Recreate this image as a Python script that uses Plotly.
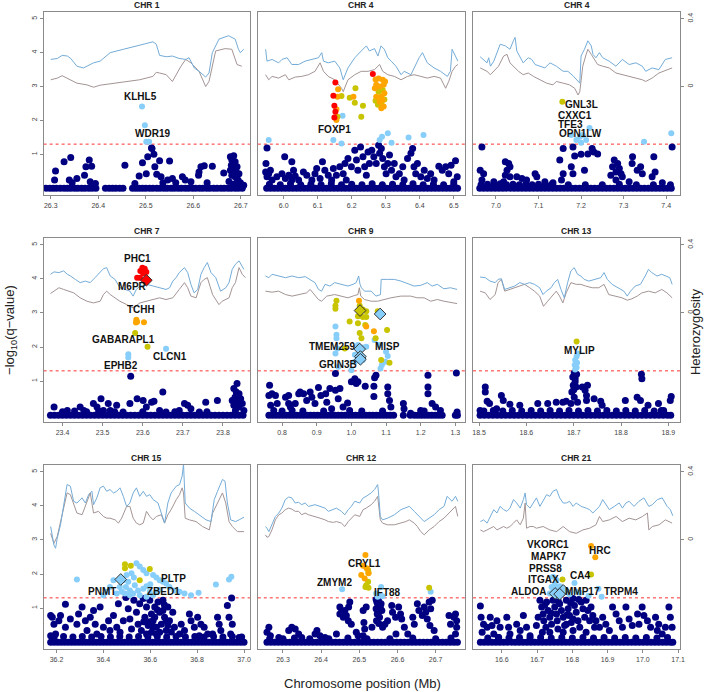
import plotly.graph_objects as go

# ------------------------------------------------------------------ DATA
# points are (position Mb, -log10 q) ; heterozygosity lines are (position Mb, heterozygosity)

CHR1_NAVY = [(26.290,0),(26.298,0),(26.305,0),(26.312,0),(26.320,0),(26.328,0),(26.335,0),(26.342,0),(26.350,0),(26.357,0),(26.365,0),(26.372,0),(26.380,0),(26.387,0),(26.395,0),(26.415,0),(26.423,0),(26.430,0),(26.437,0),(26.445,0),(26.452,0),(26.472,0),(26.479,0),(26.486,0),(26.493,0),(26.500,0),(26.508,0),(26.515,0),(26.523,0),(26.530,0),(26.538,0),(26.545,0),(26.553,0),(26.560,0),(26.568,0),(26.575,0),(26.583,0),(26.590,0),(26.598,0),(26.605,0),(26.613,0),(26.620,0),(26.628,0),(26.635,0),(26.643,0),(26.650,0),(26.658,0),(26.665,0),(26.673,0),(26.680,0),(26.688,0),(26.695,0),(26.703,0),
    (26.310,0.51),(26.308,0.24),(26.328,0.78),(26.342,0.91),(26.339,0.24),(26.345,0.16),(26.355,0.29),(26.371,0.38),(26.374,0.63),(26.381,0.83),(26.386,0.65),(26.383,0.19),(26.394,0.14),(26.456,0.68),(26.486,0.36),(26.477,0.14),(26.493,0.75),(26.501,0.43),(26.504,0.93),(26.512,1.19),(26.513,1.17),(26.517,1.00),(26.519,0.63),(26.523,0.41),(26.529,0.81),(26.532,0.34),(26.536,0.16),(26.550,0.80),(26.546,0.24),(26.556,0.29),(26.563,0.16),(26.577,0.34),(26.583,0.24),(26.595,0.19),(26.611,0.38),(26.612,0.48),(26.616,0.63),(26.623,0.66),(26.629,0.16),(26.640,0.65),(26.664,0.45),(26.678,0.93),(26.685,0.96),(26.681,0.83),(26.688,0.78),(26.680,0.68),(26.692,0.63),(26.685,0.58),(26.678,0.53),(26.690,0.48),(26.696,0.43),(26.681,0.38),(26.688,0.34),(26.694,0.24),(26.706,0.09),(26.699,0.16),(26.675,0.20),(26.684,0.12),(26.690,0.15)]
CHR1_LBLUE = [(26.492,2.41),(26.498,1.86),(26.501,1.37),(26.507,1.37)]
CHR1_OLIVE = []
CHR1_ORANGE = []
CHR1_RED = []
CHR1_DIA_LBLUE = []
CHR1_DIA_OLIVE = []
CHR1_DIA_RED = []
CHR1_HET_BLUE = [(26.300,0.160),(26.314,0.166),(26.324,0.184),(26.335,0.180),(26.342,0.166),(26.355,0.120),(26.369,0.110),(26.380,0.124),(26.390,0.140),(26.404,0.150),(26.425,0.200),(26.453,0.220),(26.487,0.244),(26.515,0.264),(26.522,0.250),(26.529,0.184),(26.543,0.176),(26.556,0.180),(26.570,0.166),(26.584,0.160),(26.591,0.170),(26.602,0.110),(26.612,0.090),(26.626,0.056),(26.633,0.080),(26.640,0.200),(26.654,0.280),(26.674,0.300),(26.688,0.280),(26.695,0.220),(26.699,0.200),(26.706,0.220)]
CHR1_HET_GRAY = [(26.300,0.040),(26.314,0.050),(26.324,0.064),(26.335,0.050),(26.355,0.020),(26.376,0.010),(26.390,-0.004),(26.404,0.008),(26.425,0.016),(26.453,0.024),(26.487,0.040),(26.515,0.060),(26.522,0.084),(26.529,0.080),(26.543,0.070),(26.556,0.030),(26.560,0.050),(26.574,0.120),(26.584,0.160),(26.595,0.140),(26.612,0.090),(26.619,0.040),(26.626,0.000),(26.633,0.030),(26.647,0.210),(26.667,0.224),(26.681,0.220),(26.692,0.130),(26.702,0.120)]
CHR1_GENES = [("KLHL5",26.489,2.70),("WDR19",26.515,1.62)]

CHR4A_NAVY = [(5.950,0),(5.961,0),(5.972,0),(5.983,0),(5.994,0),(6.005,0),(6.016,0),(6.027,0),(6.038,0),(6.049,0),(6.060,0),(6.071,0),(6.082,0),(6.093,0),(6.104,0),(6.115,0),(6.126,0),(6.137,0),(6.148,0),(6.159,0),(6.170,0),(6.181,0),(6.192,0),(6.203,0),(6.214,0),(6.225,0),(6.236,0),(6.247,0),(6.258,0),(6.269,0),(6.280,0),(6.291,0),(6.302,0),(6.313,0),(6.324,0),(6.335,0),(6.346,0),(6.357,0),(6.368,0),(6.379,0),(6.390,0),(6.401,0),(6.412,0),(6.423,0),(6.434,0),(6.445,0),(6.456,0),(6.467,0),(6.478,0),(6.489,0),(6.500,0),(6.511,0),
    (5.958,0.12),(5.990,0.10),(6.020,0.13),(6.050,0.10),(6.080,0.12),(6.110,0.10),(6.140,0.13),(6.170,0.10),(6.200,0.12),(6.230,0.10),(6.260,0.13),(6.290,0.10),(6.320,0.12),(6.350,0.10),(6.380,0.13),(6.410,0.10),(6.440,0.12),(6.470,0.10),(6.500,0.12),
    (5.951,1.19),(5.948,0.73),(5.947,0.48),(5.951,0.34),(5.956,0.43),(5.966,0.24),(5.980,0.34),(5.961,0.53),(6.003,0.93),(5.995,0.43),(6.005,0.29),(6.015,0.38),(6.024,0.78),(6.029,0.53),(6.024,0.24),(6.034,0.36),(6.044,0.24),(6.058,0.48),(6.068,0.38),(6.083,0.24),(6.092,0.43),(6.097,0.58),(6.107,0.29),(6.114,0.78),(6.121,0.53),(6.131,0.38),(6.141,0.24),(6.146,0.58),(6.155,0.38),(6.165,0.63),(6.175,0.43),(6.180,0.73),(6.184,0.24),(6.189,0.88),(6.199,0.63),(6.209,1.12),(6.214,0.83),(6.218,0.53),(6.226,1.22),(6.233,0.93),(6.238,0.63),(6.243,0.38),(6.248,1.07),(6.252,0.73),(6.259,1.12),(6.265,0.93),(6.272,0.73),(6.279,1.27),(6.282,1.03),(6.287,1.17),(6.291,0.88),(6.296,0.63),(6.301,0.43),(6.306,0.73),(6.311,0.98),(6.317,0.53),(6.325,0.73),(6.330,0.34),(6.340,0.43),(6.350,0.63),(6.354,0.24),(6.364,0.88),(6.374,1.03),(6.379,1.17),(6.383,0.63),(6.388,0.43),(6.393,0.73),(6.403,0.34),(6.413,0.53),(6.422,0.29),(6.432,0.43),(6.442,0.24),(6.456,0.65),(6.466,0.53),(6.476,0.63),(6.485,0.43),(6.492,0.68),(6.505,0.81),(6.510,0.34),(6.500,0.19)]
CHR4A_LBLUE = [(6.173,2.14),(5.956,1.42),(6.146,1.42),(6.170,1.32),(6.282,1.42),(6.289,1.52),(6.306,1.62),(6.317,1.34),(6.367,1.50),(6.411,1.57)]
CHR4A_OLIVE = [(6.170,2.72),(6.211,2.95),(6.194,2.67),(6.209,2.52),(6.233,2.43),(6.228,2.11),(6.158,2.11),(6.270,2.58),(6.279,2.85),(6.291,2.90),(6.287,2.50),(6.296,2.62),(6.277,2.46)]
CHR4A_ORANGE = [(6.160,2.92),(6.158,2.70),(6.155,2.33),(6.155,2.01),(6.270,3.21),(6.279,3.24),(6.291,3.20),(6.298,3.15),(6.272,3.05),(6.282,3.00),(6.294,3.05),(6.268,2.95),(6.296,2.80),(6.287,2.70),(6.272,2.70),(6.291,2.60),(6.287,2.36),(6.294,2.41),(6.282,2.55),(6.205,2.70)]
CHR4A_RED = [(6.152,3.12),(6.146,2.73),(6.149,2.43),(6.152,2.26),(6.149,2.09),(6.262,3.37)]
CHR4A_DIA_LBLUE = []
CHR4A_DIA_OLIVE = []
CHR4A_DIA_RED = []
CHR4A_HET_BLUE = [(5.947,0.22),(5.951,0.15),(5.966,0.16),(5.985,0.14),(5.995,0.16),(6.010,0.17),(6.024,0.13),(6.044,0.13),(6.063,0.15),(6.083,0.16),(6.102,0.17),(6.112,0.20),(6.117,0.15),(6.131,0.14),(6.150,0.15),(6.165,0.11),(6.175,0.04),(6.189,0.11),(6.209,0.17),(6.228,0.21),(6.243,0.24),(6.252,0.21),(6.267,0.224),(6.277,0.18),(6.286,0.24),(6.296,0.22),(6.306,0.17),(6.316,0.15),(6.330,0.12),(6.345,0.07),(6.354,0.09),(6.374,0.07),(6.388,0.13),(6.398,0.17),(6.408,0.20),(6.422,0.14),(6.442,0.11),(6.461,0.09),(6.481,0.06),(6.490,0.09),(6.495,0.22),(6.505,0.18),(6.512,0.15)]
CHR4A_HET_GRAY = [(5.947,0.07),(5.956,0.04),(5.966,0.06),(5.985,0.05),(6.005,0.07),(6.015,0.04),(6.034,0.056),(6.053,0.06),(6.073,0.07),(6.092,0.09),(6.107,0.14),(6.117,0.09),(6.131,0.06),(6.150,0.04),(6.170,-0.01),(6.175,-0.03),(6.189,0.04),(6.209,0.07),(6.228,0.09),(6.248,0.09),(6.267,0.10),(6.282,0.13),(6.291,0.09),(6.306,0.07),(6.325,0.06),(6.345,0.04),(6.364,0.06),(6.383,0.07),(6.403,0.06),(6.422,0.05),(6.442,0.06),(6.461,0.05),(6.476,-0.01),(6.485,0.03),(6.495,0.09),(6.505,0.12),(6.512,0.13)]
CHR4A_GENES = [("FOXP1",6.150,1.72)]

CHR4B_NAVY = [(6.962,0),(6.971,0),(6.980,0),(6.989,0),(6.998,0),(7.007,0),(7.016,0),(7.025,0),(7.034,0),(7.043,0),(7.052,0),(7.061,0),(7.070,0),(7.079,0),(7.088,0),(7.097,0),(7.106,0),(7.115,0),(7.124,0),(7.133,0),(7.142,0),(7.151,0),(7.160,0),(7.169,0),(7.178,0),(7.187,0),(7.196,0),(7.205,0),(7.214,0),(7.223,0),(7.232,0),(7.241,0),(7.250,0),(7.259,0),(7.268,0),(7.277,0),(7.286,0),(7.295,0),(7.304,0),(7.313,0),(7.322,0),(7.331,0),(7.340,0),(7.349,0),(7.358,0),(7.367,0),(7.376,0),(7.385,0),(7.394,0),(7.403,0),(7.412,0),
    (6.965,0.10),(6.980,0.12),(6.995,0.10),(7.010,0.13),(7.025,0.10),(7.040,0.12),(7.055,0.10),(7.070,0.12),(7.085,0.10),(7.100,0.12),(7.115,0.10),(7.130,0.10),(7.170,0.10),(7.210,0.10),(7.250,0.10),(7.290,0.12),(7.330,0.10),(7.370,0.10),(7.410,0.10),
    (6.967,1.22),(7.158,1.17),(7.181,1.22),(7.185,0.95),(7.200,1.00),(7.216,1.01),(7.226,1.17),(7.230,1.07),(7.239,1.01),(7.414,1.22),(7.177,0.63),(7.181,0.43),(7.208,0.53),(7.150,0.83),(7.158,0.43),(7.154,0.24),(7.022,0.78),(7.030,0.73),(7.026,0.53),(7.033,0.63),(7.022,0.38),(7.033,0.34),(7.018,0.19),(6.963,0.53),(6.971,0.43),(6.967,0.24),(6.995,0.19),(7.049,0.34),(7.061,0.29),(7.072,0.24),(7.092,0.43),(7.096,0.34),(7.115,0.19),(7.134,0.16),(7.278,0.83),(7.286,0.73),(7.274,0.63),(7.290,0.58),(7.282,0.48),(7.294,0.43),(7.270,0.38),(7.297,0.34),(7.282,0.24),(7.321,0.93),(7.320,0.73),(7.332,0.53),(7.340,0.63),(7.344,0.43),(7.371,0.93),(7.374,0.48),(7.367,0.34),(7.313,0.19),(7.391,0.16)]
CHR4B_LBLUE = [(7.220,1.78),(7.204,1.57),(7.189,1.42),(7.200,1.34),(7.212,1.42),(7.412,1.62),(7.348,1.37),(7.177,1.57),(7.197,1.52)]
CHR4B_OLIVE = [(7.156,2.55)]
CHR4B_ORANGE = []
CHR4B_RED = []
CHR4B_DIA_LBLUE = []
CHR4B_DIA_OLIVE = []
CHR4B_DIA_RED = []
CHR4B_HET_BLUE = [(6.963,0.176),(6.971,0.16),(6.979,0.14),(6.983,0.17),(6.987,0.12),(6.995,0.15),(7.002,0.20),(7.010,0.25),(7.022,0.24),(7.033,0.22),(7.041,0.27),(7.045,0.29),(7.049,0.21),(7.057,0.17),(7.064,0.14),(7.076,0.17),(7.084,0.16),(7.092,0.13),(7.103,0.12),(7.115,0.11),(7.127,0.14),(7.142,0.12),(7.158,0.09),(7.169,0.09),(7.181,0.064),(7.189,0.04),(7.197,0.02),(7.200,0.18),(7.208,0.22),(7.216,0.27),(7.224,0.24),(7.228,0.19),(7.235,0.17),(7.243,0.20),(7.251,0.17),(7.266,0.15),(7.282,0.12),(7.297,0.16),(7.313,0.13),(7.329,0.14),(7.344,0.12),(7.352,0.09),(7.367,0.11),(7.383,0.10),(7.398,0.16),(7.414,0.17)]
CHR4B_HET_GRAY = [(6.963,0.11),(6.971,0.10),(6.979,0.09),(6.987,0.07),(6.998,0.10),(7.006,0.12),(7.018,0.18),(7.026,0.19),(7.033,0.14),(7.041,0.12),(7.053,0.09),(7.064,0.07),(7.076,0.08),(7.088,0.06),(7.103,0.04),(7.119,0.02),(7.134,0.01),(7.142,0.03),(7.158,0.02),(7.173,0.01),(7.185,-0.01),(7.193,-0.05),(7.197,-0.03),(7.204,0.12),(7.212,0.19),(7.216,0.22),(7.224,0.19),(7.231,0.16),(7.239,0.13),(7.251,0.12),(7.266,0.11),(7.282,0.08),(7.297,0.07),(7.313,0.06),(7.329,0.05),(7.344,0.04),(7.352,0.03),(7.367,0.05),(7.383,0.08),(7.398,0.096),(7.414,0.11)]
CHR4B_GENES = [("GNL3L",7.201,2.48),("CXXC1",7.185,2.16),("TFE3",7.176,1.88),("OPN1LW",7.198,1.61)]

CHR7_NAVY = [(23.370,0),(23.380,0),(23.390,0),(23.400,0),(23.410,0),(23.420,0),(23.430,0),(23.440,0),(23.450,0),(23.460,0),(23.470,0),(23.480,0),(23.490,0),(23.500,0),(23.510,0),(23.520,0),(23.530,0),(23.540,0),(23.550,0),(23.560,0),(23.570,0),(23.580,0),(23.590,0),(23.600,0),(23.610,0),(23.620,0),(23.630,0),(23.640,0),(23.650,0),(23.660,0),(23.670,0),(23.680,0),(23.690,0),(23.700,0),(23.710,0),(23.720,0),(23.730,0),(23.740,0),(23.750,0),(23.760,0),(23.770,0),(23.780,0),(23.790,0),(23.800,0),(23.810,0),(23.820,0),(23.830,0),(23.840,0),(23.850,0),
    (23.570,1.14),(23.650,0.68),(23.379,0.24),(23.412,0.14),(23.444,0.24),(23.453,0.14),(23.477,0.34),(23.486,0.24),(23.496,0.48),(23.502,0.14),(23.514,0.34),(23.519,0.14),(23.535,0.29),(23.551,0.09),(23.568,0.34),(23.586,0.48),(23.601,0.43),(23.609,0.24),(23.622,0.38),(23.628,0.41),(23.642,0.14),(23.658,0.09),(23.691,0.14),(23.704,0.34),(23.712,0.29),(23.720,0.19),(23.757,0.38),(23.786,0.43),(23.741,0.09),(23.835,0.93),(23.827,0.78),(23.833,0.68),(23.840,0.63),(23.830,0.53),(23.844,0.48),(23.823,0.43),(23.835,0.38),(23.848,0.34),(23.827,0.29),(23.840,0.24),(23.852,0.14),(23.831,0.14),(23.400,0.10),(23.430,0.12),(23.460,0.10),(23.490,0.12),(23.530,0.10),(23.600,0.10),(23.680,0.10),(23.760,0.10)]
CHR7_LBLUE = [(23.564,1.79),(23.564,1.69),(23.658,1.95)]
CHR7_OLIVE = [(23.581,2.41),(23.612,2.01)]
CHR7_ORANGE = [(23.584,2.80),(23.586,2.74),(23.583,2.72),(23.603,2.73)]
CHR7_RED = [(23.599,4.33),(23.605,4.30),(23.594,4.23),(23.609,4.20),(23.601,4.16),(23.593,4.03),(23.586,4.03)]
CHR7_DIA_LBLUE = []
CHR7_DIA_OLIVE = []
CHR7_DIA_RED = [(23.609,3.96)]
CHR7_HET_BLUE = [(23.370,0.227),(23.379,0.241),(23.391,0.237),(23.403,0.247),(23.412,0.227),(23.420,0.217),(23.432,0.197),(23.444,0.178),(23.457,0.187),(23.469,0.178),(23.481,0.207),(23.494,0.237),(23.502,0.260),(23.510,0.266),(23.519,0.217),(23.531,0.197),(23.543,0.148),(23.556,0.138),(23.568,0.128),(23.576,0.099),(23.584,0.138),(23.593,0.158),(23.609,0.168),(23.626,0.158),(23.642,0.148),(23.658,0.138),(23.667,0.148),(23.675,0.187),(23.683,0.207),(23.691,0.237),(23.704,0.266),(23.712,0.237),(23.720,0.168),(23.728,0.118),(23.737,0.138),(23.745,0.227),(23.753,0.266),(23.761,0.296),(23.770,0.237),(23.782,0.207),(23.794,0.128),(23.807,0.148),(23.815,0.178),(23.823,0.256),(23.831,0.286),(23.840,0.306),(23.852,0.256)]
CHR7_HET_GRAY = [(23.370,0.114),(23.379,0.128),(23.391,0.148),(23.403,0.138),(23.416,0.128),(23.428,0.118),(23.444,0.089),(23.461,0.069),(23.477,0.059),(23.494,0.069),(23.502,0.108),(23.510,0.128),(23.519,0.108),(23.531,0.089),(23.543,0.069),(23.560,0.049),(23.576,0.030),(23.593,0.059),(23.609,0.069),(23.626,0.079),(23.642,0.089),(23.658,0.079),(23.675,0.089),(23.691,0.138),(23.704,0.178),(23.712,0.148),(23.720,0.099),(23.733,0.089),(23.745,0.178),(23.753,0.197),(23.761,0.207),(23.774,0.108),(23.782,0.079),(23.790,0.049),(23.798,0.069),(23.815,0.089),(23.823,0.148),(23.831,0.178),(23.840,0.266),(23.848,0.227),(23.856,0.207)]
CHR7_GENES = [("PHC1",23.586,4.60),("M6PR",23.574,3.77),("TCHH",23.595,3.10),("GABARAPL1",23.553,2.23),("CLCN1",23.667,1.72),("EPHB2",23.547,1.47)]

CHR9_NAVY = [(0.762,0),(0.772,0),(0.782,0),(0.792,0),(0.802,0),(0.812,0),(0.822,0),(0.832,0),(0.842,0),(0.852,0),(0.862,0),(0.872,0),(0.882,0),(0.892,0),(0.902,0),(0.912,0),(0.922,0),(0.932,0),(0.942,0),(0.952,0),(0.962,0),(0.972,0),(0.982,0),(0.992,0),(1.002,0),(1.012,0),(1.022,0),(1.032,0),(1.042,0),(1.052,0),(1.062,0),(1.072,0),(1.082,0),(1.092,0),(1.102,0),(1.112,0),(1.122,0),(1.150,0),(1.170,0),(1.182,0),(1.192,0),(1.202,0),(1.212,0),(1.222,0),(1.232,0),(1.242,0),(1.252,0),(1.262,0),(1.300,0),(1.306,0),
    (0.764,0.88),(0.762,0.58),(0.771,0.63),(0.781,0.58),(0.786,0.34),(0.767,0.29),(0.776,0.14),(0.810,0.53),(0.819,0.58),(0.819,0.34),(0.824,0.24),(0.829,0.14),(0.838,0.34),(0.848,0.63),(0.852,0.68),(0.862,0.63),(0.871,0.43),(0.881,0.68),(0.886,0.53),(0.895,0.34),(0.905,0.81),(0.912,0.58),(0.926,0.63),(0.929,0.38),(0.938,0.78),(0.943,0.19),(0.954,1.22),(0.954,0.73),(0.962,0.48),(0.967,0.78),(0.976,0.24),(0.989,0.36),(0.995,0.14),(1.000,0.98),(1.010,1.07),(1.014,0.93),(1.019,0.98),(1.040,0.85),(1.067,1.10),(1.065,0.85),(1.065,0.55),(1.071,1.17),(1.105,0.83),(1.105,0.63),(1.110,0.43),(1.114,0.24),(1.150,0.34),(1.152,0.19),(1.221,1.17),(1.221,0.83),(1.221,0.63),(1.233,0.34),(1.243,0.24),(1.257,0.14),(1.303,1.24),(1.305,0.09),(1.200,0.14),(1.171,0.06),(0.800,0.12),(0.860,0.12),(0.920,0.12),(1.030,0.12),(1.090,0.12),(1.210,0.12)]
CHR9_LBLUE = [(0.954,2.60),(0.957,2.36),(0.957,2.26),(0.954,1.81),(0.960,1.96),(0.962,1.42),(1.000,1.32),(1.010,1.57),(1.019,2.06),(1.033,1.99),(1.043,2.01),(1.019,1.62),(1.033,1.62),(1.067,2.21),(1.081,2.06),(1.100,1.86),(1.105,1.74),(1.088,1.47),(1.084,1.37),(1.098,1.57),(1.010,1.77)]
CHR9_OLIVE = [(0.957,3.36),(0.954,3.21),(0.954,3.12),(1.024,3.21),(1.033,3.10),(1.043,3.05),(1.019,2.90),(1.033,2.88),(1.043,2.88),(0.995,2.75),(1.019,2.70),(1.040,2.65),(1.024,2.41),(1.029,2.26),(1.070,2.26),(1.076,3.05),(1.103,2.50),(1.110,1.54),(1.086,1.62),(0.981,1.96)]
CHR9_ORANGE = [(1.022,3.36),(1.043,2.60),(1.065,2.46)]
CHR9_RED = []
CHR9_DIA_LBLUE = [(1.083,2.97),(1.024,1.94),(1.026,1.72),(1.026,1.64)]
CHR9_DIA_OLIVE = [(1.025,3.07)]
CHR9_DIA_RED = []
CHR9_HET_BLUE = [(0.752,0.217),(0.762,0.207),(0.771,0.227),(0.790,0.217),(0.810,0.207),(0.829,0.217),(0.848,0.207),(0.867,0.213),(0.881,0.197),(0.895,0.178),(0.905,0.138),(0.914,0.128),(0.924,0.168),(0.938,0.158),(0.952,0.178),(0.971,0.168),(0.990,0.158),(1.005,0.168),(1.014,0.178),(1.021,0.217),(1.025,0.168),(1.029,0.148),(1.038,0.128),(1.057,0.128),(1.071,0.099),(1.084,0.108),(1.086,0.197),(1.105,0.197),(1.124,0.197),(1.143,0.187),(1.162,0.174),(1.181,0.158),(1.200,0.162),(1.219,0.178),(1.233,0.158),(1.248,0.168),(1.267,0.142),(1.286,0.148),(1.305,0.138)]
CHR9_HET_GRAY = [(0.752,0.128),(0.771,0.122),(0.790,0.128),(0.810,0.108),(0.829,0.099),(0.848,0.108),(0.871,0.118),(0.881,0.138),(0.890,0.118),(0.905,0.079),(0.914,0.069),(0.929,0.099),(0.952,0.108),(0.971,0.099),(0.990,0.089),(1.010,0.103),(1.019,0.108),(1.023,0.148),(1.027,0.099),(1.038,0.079),(1.057,0.069),(1.076,0.069),(1.095,0.079),(1.114,0.089),(1.143,0.099),(1.171,0.099),(1.190,0.089),(1.210,0.089),(1.229,0.069),(1.248,0.079),(1.267,0.069),(1.286,0.063),(1.305,0.055)]
CHR9_GENES = [("TMEM259",0.946,2.01),("MISP",1.103,2.01),("GRIN3B",0.962,1.49)]

CHR13_NAVY = [(18.502,0),(18.511,0),(18.520,0),(18.529,0),(18.538,0),(18.547,0),(18.556,0),(18.565,0),(18.574,0),(18.583,0),(18.592,0),(18.601,0),(18.610,0),(18.619,0),(18.628,0),(18.637,0),(18.646,0),(18.655,0),(18.664,0),(18.673,0),(18.682,0),(18.691,0),(18.700,0),(18.709,0),(18.718,0),(18.727,0),(18.736,0),(18.745,0),(18.754,0),(18.763,0),(18.772,0),(18.781,0),(18.790,0),(18.799,0),(18.808,0),(18.817,0),(18.826,0),(18.835,0),(18.844,0),(18.853,0),(18.862,0),(18.871,0),(18.880,0),(18.889,0),(18.898,0),(18.905,0),
    (18.510,0.12),(18.530,0.14),(18.550,0.12),(18.570,0.14),(18.590,0.12),(18.610,0.14),(18.630,0.12),(18.650,0.14),(18.670,0.12),(18.690,0.14),(18.710,0.12),(18.730,0.14),(18.750,0.12),(18.770,0.14),(18.790,0.12),(18.810,0.14),(18.830,0.12),(18.850,0.14),(18.870,0.12),(18.890,0.14),
    (18.701,1.24),(18.706,1.20),(18.698,1.12),(18.703,1.07),(18.699,0.88),(18.705,0.83),(18.696,0.68),(18.701,0.53),(18.708,0.38),(18.694,0.34),(18.703,0.98),(18.700,0.75),(18.718,0.83),(18.724,0.73),(18.729,0.88),(18.727,0.58),(18.727,0.43),(18.743,0.48),(18.843,1.20),(18.844,1.07),(18.834,0.53),(18.841,0.43),(18.513,0.83),(18.513,0.68),(18.517,0.41),(18.522,0.34),(18.502,0.14),(18.547,0.58),(18.551,0.43),(18.565,0.32),(18.586,0.29),(18.624,0.34),(18.645,0.34),(18.663,0.38),(18.677,0.38),(18.684,0.41),(18.757,0.41),(18.760,0.29),(18.809,0.43),(18.857,0.29),(18.879,0.34),(18.906,0.55),(18.904,0.43),(18.885,0.14),(18.537,0.19)]
CHR13_LBLUE = [(18.708,1.81),(18.706,1.72),(18.703,1.62),(18.707,1.54),(18.702,1.47),(18.706,1.40),(18.703,1.34)]
CHR13_OLIVE = [(18.706,2.16)]
CHR13_ORANGE = []
CHR13_RED = []
CHR13_DIA_LBLUE = []
CHR13_DIA_OLIVE = []
CHR13_DIA_RED = []
CHR13_HET_BLUE = [(18.502,0.211),(18.513,0.207),(18.523,0.187),(18.534,0.178),(18.540,0.197),(18.547,0.201),(18.554,0.138),(18.565,0.148),(18.575,0.158),(18.586,0.178),(18.596,0.168),(18.607,0.178),(18.617,0.168),(18.628,0.148),(18.635,0.108),(18.642,0.128),(18.652,0.148),(18.659,0.178),(18.666,0.197),(18.673,0.138),(18.680,0.089),(18.687,0.178),(18.694,0.247),(18.701,0.266),(18.708,0.227),(18.715,0.217),(18.722,0.197),(18.732,0.187),(18.746,0.197),(18.757,0.207),(18.764,0.237),(18.771,0.197),(18.781,0.168),(18.795,0.148),(18.806,0.128),(18.813,0.099),(18.820,0.128),(18.830,0.158),(18.841,0.168),(18.851,0.217),(18.858,0.256),(18.865,0.237),(18.876,0.217),(18.886,0.227),(18.897,0.217),(18.903,0.207),(18.908,0.168)]
CHR13_HET_GRAY = [(18.502,0.128),(18.513,0.118),(18.523,0.079),(18.534,0.108),(18.540,0.178),(18.547,0.197),(18.554,0.128),(18.565,0.138),(18.575,0.148),(18.586,0.158),(18.596,0.168),(18.607,0.148),(18.617,0.128),(18.628,0.099),(18.636,0.039),(18.645,0.069),(18.656,0.108),(18.663,0.128),(18.670,0.099),(18.677,0.059),(18.684,0.118),(18.694,0.178),(18.705,0.168),(18.715,0.168),(18.725,0.158),(18.739,0.148),(18.753,0.148),(18.764,0.168),(18.774,0.108),(18.788,0.099),(18.802,0.089),(18.813,0.075),(18.823,0.083),(18.834,0.099),(18.844,0.118),(18.858,0.128),(18.872,0.118),(18.886,0.138),(18.897,0.118),(18.908,0.089)]
CHR13_GENES = [("MYLIP",18.713,1.89)]

CHR15_NAVY = [(36.175,0),(36.190,0),(36.205,0),(36.220,0),(36.235,0),(36.250,0),(36.265,0),(36.280,0),(36.295,0),(36.310,0),(36.325,0),(36.340,0),(36.355,0),(36.370,0),(36.385,0),(36.400,0),(36.415,0),(36.430,0),(36.445,0),(36.460,0),(36.475,0),(36.490,0),(36.505,0),(36.520,0),(36.535,0),(36.550,0),(36.565,0),(36.580,0),(36.595,0),(36.610,0),(36.625,0),(36.640,0),(36.655,0),(36.670,0),(36.685,0),(36.700,0),(36.715,0),(36.730,0),(36.745,0),(36.760,0),(36.775,0),(36.790,0),(36.805,0),(36.820,0),(36.835,0),(36.850,0),(36.865,0),(36.880,0),(36.895,0),(36.910,0),(36.925,0),(36.940,0),(36.955,0),(36.970,0),(36.985,0),(37.000,0),
    (36.190,0.15),(36.230,0.17),(36.270,0.15),(36.310,0.17),(36.350,0.15),(36.390,0.17),(36.430,0.15),(36.470,0.17),(36.510,0.15),(36.550,0.17),(36.590,0.15),(36.630,0.17),(36.670,0.15),(36.710,0.17),(36.750,0.15),(36.790,0.17),(36.830,0.15),(36.870,0.17),(36.910,0.15),(36.950,0.17),(36.990,0.15),
    (36.175,0.78),(36.182,0.73),(36.189,0.53),(36.175,0.19),(36.196,0.24),(36.210,0.63),(36.217,0.78),(36.238,1.11),(36.238,0.44),(36.259,0.68),(36.287,0.53),(36.294,0.83),(36.309,1.03),(36.323,0.63),(36.330,0.34),(36.344,0.73),(36.358,0.93),(36.365,0.53),(36.372,0.24),(36.386,1.03),(36.400,0.44),(36.422,0.63),(36.428,0.34),(36.443,0.78),(36.464,1.13),(36.457,0.44),(36.471,0.29),(36.485,0.63),(36.496,1.31),(36.506,0.98),(36.513,0.68),(36.520,0.39),(36.530,1.23),(36.541,0.88),(36.548,0.53),(36.555,1.13),(36.562,0.34),(36.570,1.28),(36.577,0.73),(36.584,1.03),(36.591,0.49),(36.598,1.23),(36.605,0.83),(36.612,0.63),(36.619,1.03),(36.626,0.44),(36.633,1.18),(36.640,0.88),(36.647,0.53),(36.654,1.23),(36.661,0.73),(36.668,0.34),(36.675,1.03),(36.682,0.63),(36.696,0.88),(36.703,0.44),(36.626,0.24),(36.640,0.29),(36.605,0.29),(36.619,0.73),(36.654,0.93),(36.668,0.63),(36.675,0.49),(36.612,0.44),(36.584,0.24),(36.598,0.60),(36.630,0.95),(36.660,1.10),(36.690,0.30),(36.572,0.60),(36.732,0.53),(36.746,0.34),(36.767,0.83),(36.774,0.63),(36.788,0.44),(36.802,0.73),(36.816,0.53),(36.830,0.44),(36.845,0.24),(36.887,0.73),(36.894,0.53),(36.901,0.34),(36.929,1.08),(36.936,0.73),(36.947,1.30),(36.950,0.53),(36.943,0.24),(36.979,0.14),(36.866,0.24),(36.725,0.24),(36.809,0.19)]
CHR15_LBLUE = [(36.287,1.84),(36.541,2.32),(36.555,2.22),(36.570,2.12),(36.584,2.02),(36.612,1.97),(36.626,1.90),(36.640,1.82),(36.654,1.77),(36.668,1.72),(36.520,2.02),(36.499,1.97),(36.485,1.82),(36.506,1.77),(36.496,1.62),(36.513,1.52),(36.492,1.43),(36.513,1.38),(36.443,1.82),(36.428,1.62),(36.414,1.48),(36.400,1.38),(36.457,1.43),(36.534,1.67),(36.548,1.52),(36.570,1.57),(36.584,1.64),(36.598,1.48),(36.612,1.38),(36.626,1.48),(36.640,1.54),(36.682,1.62),(36.703,1.52),(36.725,1.48),(36.746,1.43),(36.774,1.38),(36.806,1.45),(36.880,1.69),(36.936,1.84),(36.946,1.92),(36.555,1.38),(36.527,1.43),(36.478,1.48),(36.584,1.33),(36.470,1.62),(36.530,1.90),(36.600,1.70)]
CHR15_OLIVE = [(36.492,2.29),(36.492,2.17),(36.517,2.24),(36.598,2.15),(36.555,1.82)]
CHR15_ORANGE = []
CHR15_RED = []
CHR15_DIA_LBLUE = [(36.474,1.84)]
CHR15_DIA_OLIVE = []
CHR15_DIA_RED = []
CHR15_HET_BLUE = [(36.175,0.079),(36.182,0.030),(36.189,-0.030),(36.196,-0.049),(36.203,0.010),(36.217,0.089),(36.231,0.207),(36.245,0.325),(36.259,0.316),(36.273,0.227),(36.287,0.217),(36.309,0.247),(36.323,0.217),(36.337,0.266),(36.351,0.286),(36.358,0.207),(36.372,0.247),(36.386,0.306),(36.400,0.316),(36.414,0.286),(36.428,0.296),(36.443,0.276),(36.457,0.286),(36.471,0.306),(36.485,0.256),(36.499,0.197),(36.513,0.217),(36.527,0.276),(36.541,0.306),(36.555,0.256),(36.570,0.286),(36.584,0.256),(36.598,0.266),(36.612,0.237),(36.633,0.217),(36.647,0.158),(36.661,0.099),(36.675,0.217),(36.689,0.276),(36.711,0.316),(36.725,0.325),(36.736,0.375),(36.742,0.444),(36.749,0.217),(36.767,0.187),(36.788,0.168),(36.809,0.148),(36.838,0.118),(36.859,0.108),(36.873,0.237),(36.887,0.286),(36.908,0.355),(36.919,0.345),(36.929,0.217),(36.943,0.118),(36.964,0.108),(36.979,0.118),(37.000,0.134)]
CHR15_HET_GRAY = [(36.175,0.039),(36.189,-0.020),(36.203,0.020),(36.217,0.108),(36.231,0.178),(36.245,0.276),(36.259,0.266),(36.273,0.217),(36.287,0.158),(36.309,0.148),(36.330,0.227),(36.344,0.276),(36.358,0.158),(36.379,0.168),(36.400,0.138),(36.414,0.128),(36.428,0.128),(36.450,0.118),(36.464,0.099),(36.478,0.128),(36.499,0.197),(36.513,0.197),(36.527,0.128),(36.541,0.099),(36.555,0.089),(36.570,0.099),(36.584,0.168),(36.598,0.138),(36.612,0.118),(36.626,0.138),(36.647,0.148),(36.661,0.099),(36.675,0.148),(36.689,0.178),(36.711,0.237),(36.725,0.266),(36.736,0.306),(36.742,0.276),(36.749,0.128),(36.767,0.118),(36.795,0.108),(36.823,0.079),(36.852,0.059),(36.866,0.158),(36.887,0.217),(36.908,0.276),(36.922,0.217),(36.936,0.108),(36.950,0.079),(36.972,0.049),(37.000,0.049)]
CHR15_GENES = [("PLTP",36.699,1.87),("PNMT",36.395,1.48),("ZBED1",36.657,1.48)]

CHR12_NAVY = [(26.258,0),(26.268,0),(26.278,0),(26.288,0),(26.298,0),(26.308,0),(26.318,0),(26.328,0),(26.338,0),(26.348,0),(26.358,0),(26.368,0),(26.378,0),(26.388,0),(26.398,0),(26.408,0),(26.418,0),(26.428,0),(26.438,0),(26.448,0),(26.458,0),(26.468,0),(26.478,0),(26.488,0),(26.498,0),(26.508,0),(26.518,0),(26.528,0),(26.538,0),(26.548,0),(26.558,0),(26.568,0),(26.578,0),(26.588,0),(26.598,0),(26.608,0),(26.618,0),(26.628,0),(26.638,0),(26.648,0),(26.658,0),(26.668,0),(26.678,0),(26.688,0),(26.698,0),(26.708,0),(26.718,0),(26.728,0),(26.738,0),(26.748,0),(26.757,0),
    (26.265,0.10),(26.300,0.10),(26.330,0.12),(26.370,0.10),(26.420,0.10),(26.470,0.12),(26.520,0.10),(26.580,0.10),(26.640,0.12),(26.700,0.10),(26.740,0.12),
    (26.544,1.25),(26.550,1.23),(26.548,1.13),(26.555,1.03),(26.544,0.98),(26.550,0.88),(26.547,0.83),(26.553,0.73),(26.557,1.13),(26.559,0.93),(26.546,1.18),(26.552,1.08),(26.549,0.95),(26.545,0.63),(26.551,0.55),(26.449,1.03),(26.453,0.88),(26.458,0.73),(26.449,0.83),(26.462,0.93),(26.466,0.78),(26.475,1.18),(26.472,1.03),(26.471,0.63),(26.479,0.53),(26.510,0.93),(26.512,0.58),(26.514,0.39),(26.510,0.19),(26.518,1.03),(26.533,0.44),(26.561,0.44),(26.567,0.53),(26.574,0.63),(26.585,1.08),(26.587,0.88),(26.595,0.73),(26.603,1.03),(26.608,0.83),(26.611,0.68),(26.596,0.24),(26.618,0.44),(26.627,0.24),(26.640,0.73),(26.644,0.53),(26.652,1.13),(26.656,0.93),(26.665,0.78),(26.670,1.03),(26.674,0.88),(26.678,0.68),(26.683,1.18),(26.687,0.98),(26.691,1.23),(26.685,0.49),(26.696,0.34),(26.735,0.78),(26.739,0.53),(26.748,0.73),(26.752,0.83),(26.755,0.63),(26.755,0.44),(26.752,0.24),(26.263,0.44),(26.258,0.29),(26.267,0.19),(26.289,0.14),(26.315,0.34),(26.323,0.44),(26.332,0.39),(26.341,0.24),(26.349,0.14),(26.384,0.24),(26.389,0.34),(26.397,0.19),(26.410,0.14),(26.440,0.24),(26.492,0.29),(26.497,0.19)]
CHR12_LBLUE = [(26.455,1.55),(26.557,1.62),(26.544,1.43),(26.550,1.38),(26.561,1.35),(26.687,1.48),(26.548,1.33)]
CHR12_OLIVE = [(26.523,2.12),(26.524,2.04),(26.523,1.77),(26.516,1.62),(26.524,1.60),(26.518,1.67),(26.683,1.60)]
CHR12_ORANGE = [(26.516,2.56),(26.510,2.24),(26.519,2.17),(26.505,1.97),(26.514,1.87),(26.524,2.02)]
CHR12_RED = []
CHR12_DIA_LBLUE = []
CHR12_DIA_OLIVE = []
CHR12_DIA_RED = []
CHR12_HET_BLUE = [(26.254,0.079),(26.258,0.069),(26.263,0.049),(26.271,0.089),(26.280,0.138),(26.289,0.158),(26.297,0.187),(26.306,0.237),(26.315,0.252),(26.323,0.247),(26.332,0.217),(26.341,0.221),(26.349,0.207),(26.358,0.217),(26.367,0.197),(26.384,0.207),(26.397,0.197),(26.410,0.187),(26.419,0.168),(26.432,0.178),(26.440,0.187),(26.453,0.168),(26.462,0.148),(26.471,0.178),(26.479,0.197),(26.488,0.227),(26.501,0.217),(26.510,0.247),(26.518,0.256),(26.531,0.276),(26.540,0.296),(26.548,0.325),(26.550,0.286),(26.555,0.138),(26.561,0.118),(26.574,0.128),(26.592,0.148),(26.609,0.178),(26.622,0.187),(26.631,0.197),(26.644,0.168),(26.652,0.148),(26.661,0.128),(26.670,0.108),(26.683,0.128),(26.696,0.148),(26.709,0.178),(26.722,0.197),(26.730,0.256),(26.743,0.227),(26.752,0.256),(26.758,0.227)]
CHR12_HET_GRAY = [(26.254,0.030),(26.258,0.016),(26.263,0.020),(26.271,0.059),(26.280,0.118),(26.289,0.148),(26.297,0.158),(26.306,0.178),(26.315,0.187),(26.323,0.181),(26.332,0.168),(26.341,0.168),(26.349,0.148),(26.358,0.158),(26.367,0.148),(26.384,0.138),(26.397,0.128),(26.410,0.118),(26.419,0.108),(26.432,0.103),(26.440,0.108),(26.453,0.099),(26.462,0.079),(26.471,0.108),(26.479,0.128),(26.488,0.148),(26.501,0.138),(26.510,0.178),(26.518,0.187),(26.531,0.207),(26.540,0.227),(26.548,0.256),(26.550,0.217),(26.555,0.118),(26.561,0.099),(26.574,0.089),(26.592,0.089),(26.609,0.099),(26.622,0.108),(26.631,0.118),(26.644,0.099),(26.652,0.079),(26.661,0.049),(26.670,0.030),(26.683,0.059),(26.696,0.079),(26.709,0.108),(26.722,0.128),(26.735,0.158),(26.743,0.178),(26.752,0.197),(26.758,0.138)]
CHR12_GENES = [("CRYL1",26.513,2.30),("ZMYM2",26.436,1.75),("IFT88",26.573,1.46)]

CHR21_NAVY = [(16.539,0),(16.550,0),(16.561,0),(16.572,0),(16.583,0),(16.594,0),(16.605,0),(16.616,0),(16.627,0),(16.638,0),(16.649,0),(16.660,0),(16.671,0),(16.682,0),(16.693,0),(16.704,0),(16.715,0),(16.726,0),(16.737,0),(16.748,0),(16.759,0),(16.770,0),(16.781,0),(16.792,0),(16.803,0),(16.814,0),(16.825,0),(16.836,0),(16.847,0),(16.858,0),(16.869,0),(16.880,0),(16.891,0),(16.902,0),(16.913,0),(16.924,0),(16.935,0),(16.946,0),(16.957,0),(16.968,0),(16.979,0),(16.990,0),(17.001,0),(17.012,0),(17.023,0),(17.034,0),(17.045,0),(17.056,0),(17.067,0),(17.078,0),(17.085,0),
    (16.560,0.12),(16.590,0.14),(16.620,0.12),(16.650,0.14),(16.680,0.12),(16.710,0.14),(16.740,0.12),(16.770,0.14),(16.800,0.12),(16.830,0.14),(16.860,0.12),(16.890,0.14),(16.920,0.12),(16.950,0.14),(16.980,0.12),(17.010,0.14),(17.040,0.12),(17.070,0.14),
    (16.539,1.06),(16.541,0.73),(16.548,0.53),(16.544,0.29),(16.558,0.44),(16.567,0.73),(16.572,0.49),(16.577,0.24),(16.586,0.63),(16.595,0.44),(16.591,0.14),(16.614,0.73),(16.619,0.44),(16.623,0.24),(16.642,0.53),(16.652,0.34),(16.661,0.78),(16.670,0.44),(16.680,0.19),(16.708,1.23),(16.713,1.03),(16.717,0.83),(16.719,0.63),(16.725,0.44),(16.727,1.18),(16.731,0.93),(16.736,0.73),(16.741,0.53),(16.745,1.23),(16.750,1.03),(16.755,0.83),(16.757,0.63),(16.759,0.39),(16.764,1.13),(16.769,0.93),(16.774,0.73),(16.778,0.49),(16.783,1.23),(16.788,0.98),(16.792,0.78),(16.797,0.58),(16.802,1.28),(16.806,1.08),(16.811,0.88),(16.816,0.63),(16.821,0.44),(16.825,1.18),(16.830,0.98),(16.835,0.73),(16.839,1.23),(16.844,0.93),(16.849,0.63),(16.853,1.03),(16.858,0.78),(16.863,0.44),(16.703,0.73),(16.698,0.49),(16.715,0.29),(16.736,0.29),(16.774,0.29),(16.802,0.34),(16.839,0.29),(16.802,0.68),(16.783,0.53),(16.722,1.10),(16.760,1.20),(16.795,1.15),(16.818,1.25),(16.740,0.85),(16.785,0.80),(16.867,0.63),(16.877,0.44),(16.886,0.73),(16.895,0.53),(16.905,0.34),(16.914,1.03),(16.924,0.83),(16.933,0.63),(16.942,0.44),(16.952,1.03),(16.961,0.68),(16.970,0.49),(16.985,0.83),(16.989,0.53),(16.998,1.03),(17.003,0.78),(17.013,0.63),(17.022,0.44),(17.036,0.73),(17.045,0.53),(17.055,0.24),(17.074,1.03),(17.078,0.73),(17.083,0.44),(17.041,0.34),(17.064,0.44)]
CHR21_LBLUE = [(16.745,1.92),(16.755,1.82),(16.750,1.70),(16.741,1.62),(16.755,1.57),(16.764,1.64),(16.745,1.48),(16.755,1.43),(16.769,1.48),(16.759,1.36),(16.736,1.43),(16.783,1.52),(16.806,1.74),(16.846,1.36),(16.874,1.57),(16.883,1.33),(16.811,1.48),(16.821,1.45),(16.792,1.41)]
CHR21_OLIVE = [(16.853,1.99),(16.772,1.84)]
CHR21_ORANGE = [(16.853,2.82),(16.865,2.49)]
CHR21_RED = []
CHR21_DIA_LBLUE = [(16.751,1.43),(16.774,1.52),(16.764,1.41)]
CHR21_DIA_OLIVE = []
CHR21_DIA_RED = []
CHR21_HET_BLUE = [(16.539,0.108),(16.548,0.118),(16.558,0.099),(16.567,0.138),(16.577,0.178),(16.586,0.158),(16.595,0.197),(16.605,0.178),(16.614,0.168),(16.623,0.187),(16.633,0.237),(16.642,0.217),(16.652,0.187),(16.661,0.237),(16.666,0.276),(16.670,0.207),(16.680,0.187),(16.689,0.217),(16.698,0.247),(16.708,0.197),(16.717,0.227),(16.727,0.266),(16.736,0.256),(16.745,0.286),(16.755,0.296),(16.764,0.247),(16.774,0.217),(16.783,0.217),(16.792,0.227),(16.802,0.197),(16.811,0.217),(16.825,0.197),(16.839,0.187),(16.849,0.178),(16.858,0.158),(16.867,0.178),(16.877,0.197),(16.886,0.237),(16.895,0.207),(16.905,0.178),(16.919,0.197),(16.933,0.217),(16.942,0.187),(16.952,0.217),(16.961,0.227),(16.975,0.197),(16.989,0.227),(17.003,0.247),(17.017,0.197),(17.027,0.207),(17.041,0.237),(17.055,0.247),(17.069,0.197),(17.078,0.178),(17.085,0.142)]
CHR21_HET_GRAY = [(16.539,0.059),(16.548,0.049),(16.558,0.059),(16.567,0.069),(16.577,0.079),(16.586,0.059),(16.595,0.069),(16.605,0.079),(16.614,0.069),(16.623,0.079),(16.633,0.099),(16.642,0.118),(16.652,0.089),(16.661,0.128),(16.666,0.217),(16.670,0.069),(16.680,0.079),(16.689,0.079),(16.698,0.069),(16.717,0.079),(16.736,0.059),(16.755,0.049),(16.774,0.079),(16.792,0.049),(16.811,0.039),(16.830,0.059),(16.849,0.069),(16.867,0.089),(16.877,0.138),(16.886,0.108),(16.905,0.118),(16.924,0.138),(16.942,0.108),(16.961,0.128),(16.980,0.118),(16.999,0.138),(17.013,0.158),(17.017,0.059),(17.027,0.079),(17.046,0.089),(17.064,0.118),(17.083,0.099)]
CHR21_GENES = [("VKORC1",16.731,2.86),("HRC",16.879,2.69),("MAPK7",16.732,2.51),("PRSS8",16.723,2.17),("CA4",16.822,1.95),("ITGAX",16.719,1.85),("ALDOA",16.678,1.50),("MMP17",16.830,1.48),("TRPM4",16.937,1.50)]

PANEL_TITLES = ["CHR 1", "CHR 4", "CHR 4", "CHR 7", "CHR 9", "CHR 13", "CHR 15", "CHR 12", "CHR 21"]
X_TICKS = [[26.3, 26.4, 26.5, 26.6, 26.7], [6.0, 6.1, 6.2, 6.3, 6.4, 6.5], [7.0, 7.1, 7.2, 7.3, 7.4],
           [23.4, 23.5, 23.6, 23.7, 23.8], [0.8, 0.9, 1.0, 1.1, 1.2, 1.3], [18.5, 18.6, 18.7, 18.8, 18.9],
           [36.2, 36.4, 36.6, 36.8, 37.0], [26.3, 26.4, 26.5, 26.6, 26.7], [16.6, 16.7, 16.8, 16.9, 17.0, 17.1]]
Q_TICKS = [1, 2, 3, 4, 5]
HET_TICKS = [0, 0.4]
SIG_THRESHOLD = 1.301   # -log10(0.05)

PANEL_DATA = [
    (CHR1_NAVY, CHR1_LBLUE, CHR1_OLIVE, CHR1_ORANGE, CHR1_RED, CHR1_DIA_LBLUE, CHR1_DIA_OLIVE, CHR1_DIA_RED, CHR1_HET_BLUE, CHR1_HET_GRAY, CHR1_GENES),
    (CHR4A_NAVY, CHR4A_LBLUE, CHR4A_OLIVE, CHR4A_ORANGE, CHR4A_RED, CHR4A_DIA_LBLUE, CHR4A_DIA_OLIVE, CHR4A_DIA_RED, CHR4A_HET_BLUE, CHR4A_HET_GRAY, CHR4A_GENES),
    (CHR4B_NAVY, CHR4B_LBLUE, CHR4B_OLIVE, CHR4B_ORANGE, CHR4B_RED, CHR4B_DIA_LBLUE, CHR4B_DIA_OLIVE, CHR4B_DIA_RED, CHR4B_HET_BLUE, CHR4B_HET_GRAY, CHR4B_GENES),
    (CHR7_NAVY, CHR7_LBLUE, CHR7_OLIVE, CHR7_ORANGE, CHR7_RED, CHR7_DIA_LBLUE, CHR7_DIA_OLIVE, CHR7_DIA_RED, CHR7_HET_BLUE, CHR7_HET_GRAY, CHR7_GENES),
    (CHR9_NAVY, CHR9_LBLUE, CHR9_OLIVE, CHR9_ORANGE, CHR9_RED, CHR9_DIA_LBLUE, CHR9_DIA_OLIVE, CHR9_DIA_RED, CHR9_HET_BLUE, CHR9_HET_GRAY, CHR9_GENES),
    (CHR13_NAVY, CHR13_LBLUE, CHR13_OLIVE, CHR13_ORANGE, CHR13_RED, CHR13_DIA_LBLUE, CHR13_DIA_OLIVE, CHR13_DIA_RED, CHR13_HET_BLUE, CHR13_HET_GRAY, CHR13_GENES),
    (CHR15_NAVY, CHR15_LBLUE, CHR15_OLIVE, CHR15_ORANGE, CHR15_RED, CHR15_DIA_LBLUE, CHR15_DIA_OLIVE, CHR15_DIA_RED, CHR15_HET_BLUE, CHR15_HET_GRAY, CHR15_GENES),
    (CHR12_NAVY, CHR12_LBLUE, CHR12_OLIVE, CHR12_ORANGE, CHR12_RED, CHR12_DIA_LBLUE, CHR12_DIA_OLIVE, CHR12_DIA_RED, CHR12_HET_BLUE, CHR12_HET_GRAY, CHR12_GENES),
    (CHR21_NAVY, CHR21_LBLUE, CHR21_OLIVE, CHR21_ORANGE, CHR21_RED, CHR21_DIA_LBLUE, CHR21_DIA_OLIVE, CHR21_DIA_RED, CHR21_HET_BLUE, CHR21_HET_GRAY, CHR21_GENES),
]

# ------------------------------------------------------------------ LAYOUT / STYLE
W, H = 709, 692
X_RANGES = [(26.285, 26.719), (5.924, 6.533), (6.946, 7.433), (23.353, 23.867), (0.730, 1.328),
            (18.487, 18.925), (36.145, 37.025), (26.234, 26.777), (16.518, 17.106)]
COL_PX = [(43, 251), (259, 468), (476, 685)]
ROW_PX = [(12, 195), (238, 422), (465, 649)]
Q_RANGE = [-0.2, 5.2]
HET_RANGE = [-0.64, 0.44]
FONT = "Liberation Sans, Arial, Helvetica, sans-serif"
C_NAVY, C_LBLUE, C_OLIVE, C_ORANGE, C_RED = "#000080", "#87CEFA", "#C9C400", "#FFA500", "#FF0000"
C_HBLUE, C_HGRAY = "#74ACD8", "#A49494"
FRAME = "#8a8a8a"


def unzip(pts):
    return [p[0] for p in pts], [p[1] for p in pts]


def axname(prefix, n):
    return prefix if n == 1 else f"{prefix}{n}"


fig = go.Figure()
layout = dict(width=W, height=H, margin=dict(l=0, r=0, t=0, b=0), paper_bgcolor="white",
              plot_bgcolor="white", showlegend=False, font=dict(family=FONT, color="#222"))
annotations, shapes = [], []

for i, data in enumerate(PANEL_DATA):
    navy, lblue, olive, orange, red, dlb, dol, dred, hblue, hgray, genes = data
    r, c = divmod(i, 3)
    xn, hn, qn = i + 1, 2 * i + 1, 2 * i + 2
    xa, ha, qa = axname("x", xn), axname("y", hn), axname("y", qn)

    # heterozygosity lines (base axis, right side)
    for pts, col in ((hgray, C_HGRAY), (hblue, C_HBLUE)):
        xs, ys = unzip(pts)
        fig.add_trace(go.Scatter(x=xs, y=ys, mode="lines", line=dict(color=col, width=1),
                                 xaxis=xa, yaxis=ha, hoverinfo="skip"))
    # significance points (overlay axis, left side)
    for pts, col, size in ((navy, C_NAVY, 7), (lblue, C_LBLUE, 6), (olive, C_OLIVE, 6),
                           (orange, C_ORANGE, 6), (red, C_RED, 6)):
        if pts:
            xs, ys = unzip(pts)
            fig.add_trace(go.Scatter(x=xs, y=ys, mode="markers", xaxis=xa, yaxis=qa,
                                     marker=dict(color=col, size=size, line=dict(width=0))))
    for pts, col in ((dlb, C_LBLUE), (dol, C_OLIVE), (dred, C_RED)):
        if pts:
            xs, ys = unzip(pts)
            fig.add_trace(go.Scatter(x=xs, y=ys, mode="markers", xaxis=xa, yaxis=qa,
                                     marker=dict(color=col, size=9, symbol="diamond",
                                                 line=dict(width=1, color="#333333"))))

    x0p, x1p = COL_PX[c]
    y0p, y1p = ROW_PX[r]
    xdom = [x0p / W, x1p / W]
    ydom = [1 - y1p / H, 1 - y0p / H]
    tickfont = dict(size=7, color="#444", family=FONT)
    layout[axname("xaxis", xn)] = dict(
        domain=xdom, anchor=ha, range=list(X_RANGES[i]), tickvals=X_TICKS[i], tickformat=".1f",
        showline=True, mirror=True, linecolor=FRAME, linewidth=1.2, ticks="outside", ticklen=3,
        tickcolor=FRAME, tickfont=tickfont, showgrid=False, zeroline=False)
    layout[axname("yaxis", hn)] = dict(
        domain=ydom, anchor=xa, side="right", range=HET_RANGE, tickvals=HET_TICKS,
        ticktext=["0", "0.4"], showticklabels=(c == 2), ticks="outside" if c == 2 else "",
        ticklen=3, tickcolor=FRAME, tickangle=-90, tickfont=tickfont, showline=True, mirror=True,
        linecolor=FRAME, linewidth=1.2, showgrid=False, zeroline=False)
    layout[axname("yaxis", qn)] = dict(
        overlaying=ha, anchor=xa, side="left", range=Q_RANGE, tickvals=Q_TICKS,
        showticklabels=(c == 0), ticks="outside" if c == 0 else "", ticklen=3, tickcolor=FRAME,
        tickangle=-90, tickfont=tickfont, showline=False, showgrid=False, zeroline=False)

    shapes.append(dict(type="line", xref=f"{xa} domain", x0=0, x1=1, yref=qa,
                       y0=SIG_THRESHOLD, y1=SIG_THRESHOLD, layer="below",
                       line=dict(color="#FF3030", width=1, dash="dot")))
    for name, gx, gy in genes:
        annotations.append(dict(x=gx, y=gy, xref=xa, yref=qa, text=f"<b>{name}</b>",
                                xanchor="center", yanchor="middle",
                                showarrow=False, font=dict(size=10, color="#111", family=FONT)))
    annotations.append(dict(x=(xdom[0] + xdom[1]) / 2, y=1 - (y0p - 7) / H, xref="paper",
                            yref="paper", text=f"<b>{PANEL_TITLES[i]}</b>", showarrow=False,
                            xanchor="center", yanchor="middle",
                            font=dict(size=8.5, color="#222", family=FONT)))

annotations.append(dict(x=9 / W, y=1 - 330 / H, xref="paper", yref="paper", textangle=-90,
                        xanchor="center", yanchor="middle",
                        text="\u2212log<sub>10</sub>(q\u2212value)", showarrow=False,
                        font=dict(size=13, color="#222", family=FONT)))
annotations.append(dict(x=701 / W, y=1 - 332 / H, xref="paper", yref="paper", textangle=-90,
                        xanchor="center", yanchor="middle",
                        text="Heterozygosity", showarrow=False,
                        font=dict(size=13, color="#222", family=FONT)))
annotations.append(dict(x=365 / W, y=1 - 683 / H, xref="paper", yref="paper",
                        xanchor="center", yanchor="middle",
                        text="Chromosome position (Mb)", showarrow=False,
                        font=dict(size=13, color="#222", family=FONT)))

layout["annotations"] = annotations
layout["shapes"] = shapes
fig.update_layout(**layout)
fig.write_html("out.html")
